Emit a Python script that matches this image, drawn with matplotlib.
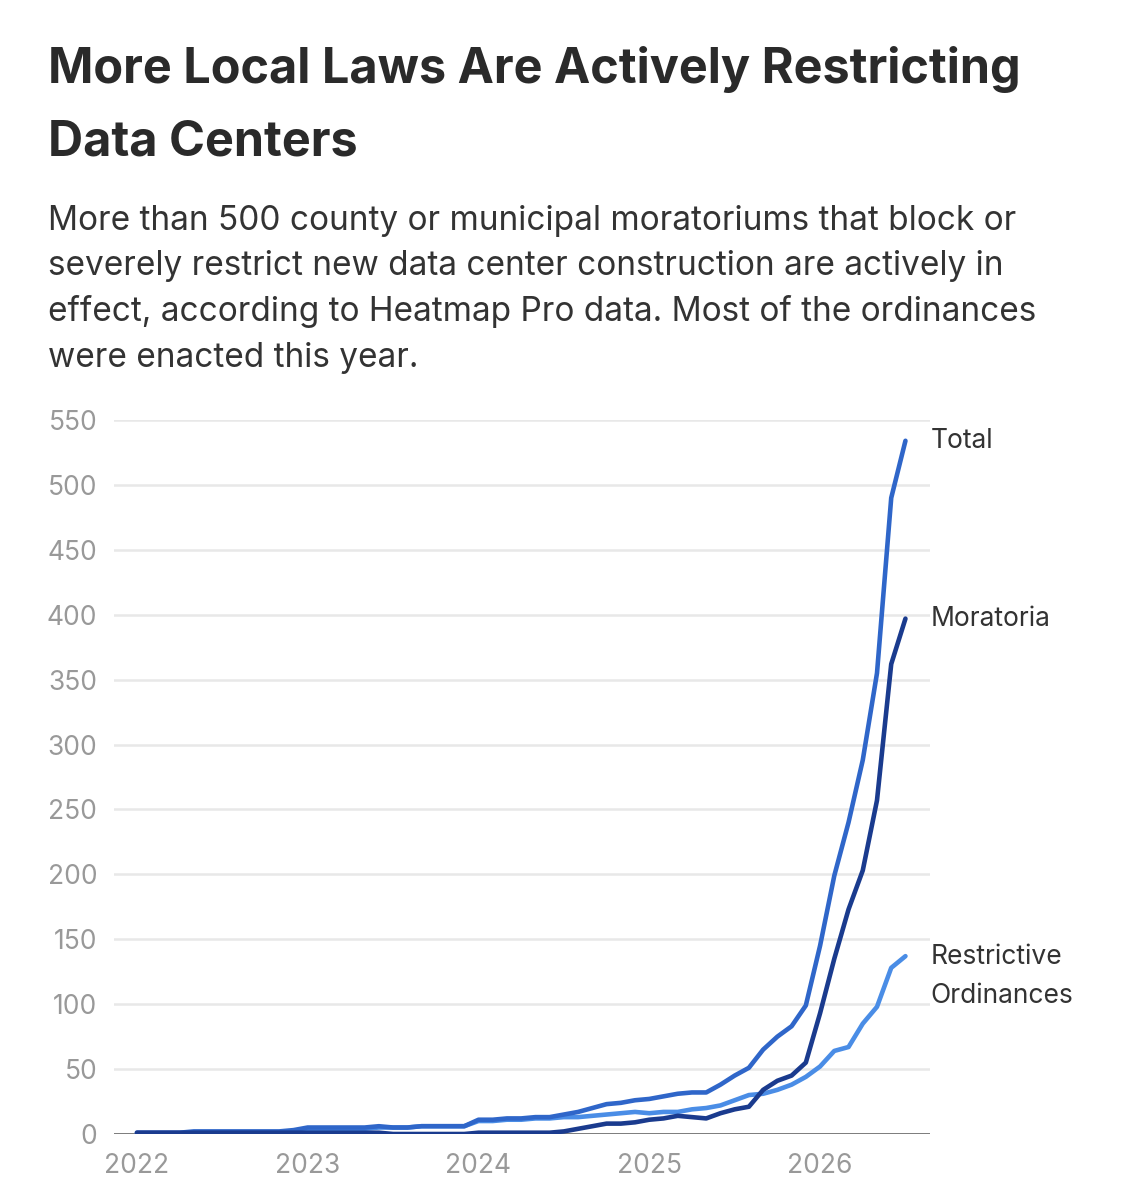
import matplotlib.pyplot as plt

plt.rcParams['font.family'] = ['Inter', 'DejaVu Sans']

# monthly values, Jan 2022 .. Jul 2026
months = list(range(55))

total = [1, 1, 1, 1, 2, 2, 2, 2, 2, 2, 2, 3,
         5, 5, 5, 5, 5, 6, 5, 5, 6, 6, 6, 6,
         11, 11, 12, 12, 13, 13, 15, 17, 20, 23, 24, 26,
         27, 29, 31, 32, 32, 38, 45, 51, 65, 75, 83, 99,
         145, 199, 240, 288, 355, 490, 534]

moratoria = [1, 1, 1, 1, 1, 1, 1, 1, 1, 1, 1, 1,
             1, 1, 1, 1, 1, 1, 0, 0, 0, 0, 0, 0,
             1, 1, 1, 1, 1, 1, 2, 4, 6, 8, 8, 9,
             11, 12, 14, 13, 12, 16, 19, 21, 34, 41, 45, 55,
             93, 135, 173, 203, 257, 362, 397]

restrictive = [0, 0, 0, 0, 1, 1, 1, 1, 1, 1, 1, 2,
               4, 4, 4, 4, 4, 5, 5, 5, 6, 6, 6, 6,
               10, 10, 11, 11, 12, 12, 13, 13, 14, 15, 16, 17,
               16, 17, 17, 19, 20, 22, 26, 30, 31, 34, 38, 44,
               52, 64, 67, 85, 98, 128, 137]

series_names = ['Total', 'Moratoria', 'Restrictive\nOrdinances']
colors = ['#2f66c9', '#1a3b8e', '#4a8de6']
year_ticks = [2022, 2023, 2024, 2025, 2026]
y_ticks = list(range(0, 551, 50))

x = [2022 + m / 12 for m in months]

fig = plt.figure(figsize=(11.25, 12), dpi=100)
ax = fig.add_axes([0.1013, 0.055, 0.7253, 0.595])

for yt in y_ticks[1:]:
    ax.axhline(yt, color='#e8e8e8', lw=1.8, zorder=0)
ax.axhline(0, color='#555555', lw=1.8, zorder=1)

# draw order: restrictive, total, moratoria
ax.plot(x, restrictive, color=colors[2], lw=3.3, solid_capstyle='round', zorder=3)
ax.plot(x, total, color=colors[0], lw=3.3, solid_capstyle='round', zorder=4)
ax.plot(x, moratoria, color=colors[1], lw=3.3, solid_capstyle='round', zorder=5)

ends = [total[-1], moratoria[-1], restrictive[-1]]
offs = [0, 0, -15]
for name, yv, off in zip(series_names, ends, offs):
    ax.annotate(name, (x[-1], yv), xytext=(18, off), textcoords='offset points',
                va='center', ha='left', fontsize=19, color='#333333',
                linespacing=1.65, annotation_clip=False)

ax.set_xlim(2022 - 23 / 171, 2026 + 110 / 171)
ax.set_ylim(0, 550)
ax.set_xticks(year_ticks)
ax.set_xticklabels([str(t) for t in year_ticks])
ax.set_yticks(y_ticks)
ax.tick_params(length=0, labelsize=19, labelcolor='#999999')
ax.tick_params(axis='y', pad=12)
ax.tick_params(axis='x', pad=14)
for s in ax.spines.values():
    s.set_visible(False)

fig.text(0.0427, 1 - 83 / 1200, 'More Local Laws Are Actively Restricting',
         fontsize=35, fontweight='bold', color='#2a2a2a', va='baseline')
fig.text(0.0427, 1 - 155 / 1200, 'Data Centers',
         fontsize=35, fontweight='bold', color='#2a2a2a', va='baseline')

sub = ['More than 500 county or municipal moratoriums that block or',
       'severely restrict new data center construction are actively in',
       'effect, according to Heatmap Pro data. Most of the ordinances',
       'were enacted this year.']
for i, line in enumerate(sub):
    fig.text(0.0427, 1 - (230 + 45.5 * i) / 1200, line, fontsize=24,
             color='#333333', va='baseline')

fig.savefig('out.png', dpi=100, facecolor='white')
